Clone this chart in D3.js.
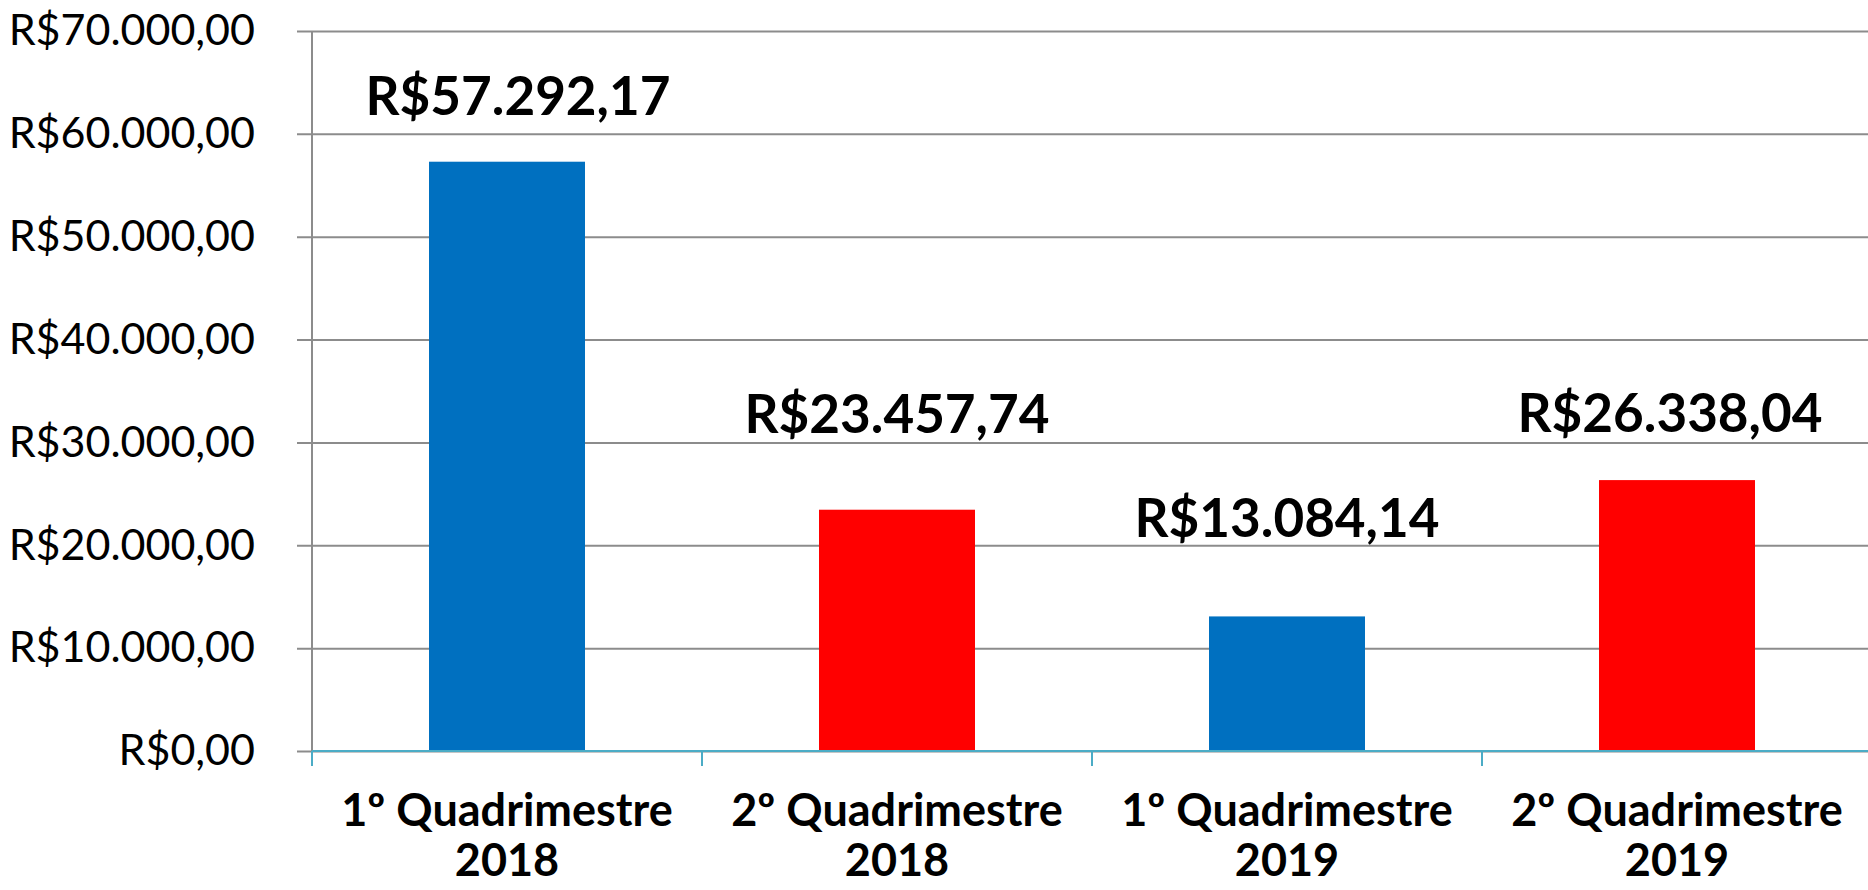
<!DOCTYPE html>
<html>
<head>
<meta charset="utf-8">
<script src="https://cdn.jsdelivr.net/npm/d3@7"></script>
<style>
  body { margin: 0; background: #fff; }
  svg { display: block; }
</style>
</head>
<body>
<div id="plot"></div>
<script>
// Chart data
var quarters = ["1º Quadrimestre", "2º Quadrimestre", "1º Quadrimestre", "2º Quadrimestre"];
var years = ["2018", "2018", "2019", "2019"];
var amounts = [57292.17, 23457.74, 13084.14, 26338.04];
var yTicks = [0, 10000, 20000, 30000, 40000, 50000, 60000, 70000];

// bar colours and hand-placed label nudges (px), as in the original sheet
var barColors = ["#0070C0", "#FF0000", "#0070C0", "#FF0000"];
var labelNudge = [[11, 47], [0, 77], [0, 79], [-7, 48]];

var svgWidth = 1868;
var svgHeight = 890;

var margin = { top: 31, right: -4, bottom: 139, left: 312 };
var width = svgWidth - margin.left - margin.right;
var height = svgHeight - margin.top - margin.bottom;

var brl = d3.formatLocale({
  decimal: ",",
  thousands: ".",
  grouping: [3],
  currency: ["R$", ""]
});
var money = brl.format("$,.2f");

var svg = d3.select("#plot")
  .append("svg")
  .attr("width", svgWidth)
  .attr("height", svgHeight);

var chartGroup = svg.append("g")
  .attr("transform", `translate(${margin.left}, ${margin.top})`);

var idx = d3.range(amounts.length);

var xBand = d3.scaleBand()
  .domain(idx)
  .range([0, width])
  .paddingInner(0.6)
  .paddingOuter(0.3);

var yLinearScale = d3.scaleLinear()
  .domain([0, 70000])
  .range([height, 0]);

// gridlines + y labels
var leftAxis = d3.axisLeft(yLinearScale)
  .tickValues(yTicks)
  .tickSize(-width)
  .tickPadding(57)
  .tickFormat(money);

var yAxisG = chartGroup.append("g").call(leftAxis);
yAxisG.select(".domain").remove();
yAxisG.selectAll(".tick line")
  .attr("x1", -15)
  .attr("stroke", "#8c8c8c")
  .attr("stroke-width", 2);
yAxisG.selectAll(".tick text")
  .attr("font-family", "Lato, 'Open Sans', sans-serif")
  .attr("font-size", "43px")
  .attr("fill", "#000");

// vertical axis line
chartGroup.append("line")
  .attr("x1", 0).attr("x2", 0)
  .attr("y1", 0).attr("y2", height)
  .attr("stroke", "#8c8c8c")
  .attr("stroke-width", 2);

// bars
chartGroup.selectAll("rect.bar")
  .data(idx)
  .enter()
  .append("rect")
  .attr("class", "bar")
  .attr("x", i => xBand(i))
  .attr("width", xBand.bandwidth())
  .attr("y", i => yLinearScale(amounts[i]))
  .attr("height", i => height - yLinearScale(amounts[i]))
  .attr("fill", i => barColors[i]);

// x axis line and boundary ticks
chartGroup.append("line")
  .attr("x1", 0).attr("x2", width)
  .attr("y1", height).attr("y2", height)
  .attr("stroke", "#4bacc6")
  .attr("stroke-width", 2);

var step = xBand.step();
var bounds = idx.map(i => xBand(i) - xBand.paddingOuter() * step).concat([width]);
chartGroup.selectAll("line.cat-tick")
  .data(bounds)
  .enter()
  .append("line")
  .attr("class", "cat-tick")
  .attr("x1", d => d).attr("x2", d => d)
  .attr("y1", height).attr("y2", height + 15)
  .attr("stroke", "#4bacc6")
  .attr("stroke-width", 2);

// category labels (two lines)
var catText = chartGroup.selectAll("text.cat")
  .data(idx)
  .enter()
  .append("text")
  .attr("class", "cat")
  .attr("text-anchor", "middle")
  .attr("font-family", "Lato, 'Open Sans', sans-serif")
  .attr("font-weight", "bold")
  .attr("font-size", "45px")
  .attr("fill", "#000");

catText.append("tspan")
  .attr("x", i => xBand(i) + xBand.bandwidth() / 2)
  .attr("y", height + 75)
  .text(i => quarters[i]);

catText.append("tspan")
  .attr("x", i => xBand(i) + xBand.bandwidth() / 2)
  .attr("y", height + 125)
  .text(i => years[i]);

// value labels
chartGroup.selectAll("text.value")
  .data(idx)
  .enter()
  .append("text")
  .attr("class", "value")
  .attr("text-anchor", "middle")
  .attr("x", i => xBand(i) + xBand.bandwidth() / 2 + labelNudge[i][0])
  .attr("y", i => yLinearScale(amounts[i]) - labelNudge[i][1])
  .attr("font-family", "Lato, 'Open Sans', sans-serif")
  .attr("font-weight", "bold")
  .attr("font-size", "53px")
  .attr("fill", "#000")
  .text(i => money(amounts[i]));
</script>
</body>
</html>
